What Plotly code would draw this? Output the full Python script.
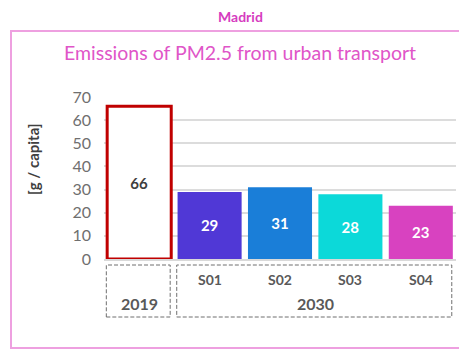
import plotly.graph_objects as go

# Data
scenarios = ["2019", "S01", "S02", "S03", "S04"]
groups = ["2019", "2030"]
values = [66, 29, 31, 28, 23]
bar_colors = ["#ffffff", "#5038d6", "#1a7ed8", "#0cd9d9", "#d842c0"]
y_ticks = [0, 10, 20, 30, 40, 50, 60, 70]

FONT = "Lato"
GREY = "#595959"

fig = go.Figure()
fig.add_trace(go.Bar(
    x=scenarios,
    y=values,
    marker=dict(color=bar_colors,
                line=dict(color=["#c00000", "rgba(0,0,0,0)", "rgba(0,0,0,0)",
                                 "rgba(0,0,0,0)", "rgba(0,0,0,0)"],
                          width=[3, 0, 0, 0, 0])),
    text=[str(v) for v in values],
    textposition="inside",
    insidetextanchor="middle",
    textangle=0,
    textfont=dict(family=FONT, size=15,
                  color=["#404040", "white", "white", "white", "white"],
                  weight="bold"),
    hoverinfo="skip",
    showlegend=False,
))

W, H = 459, 350
ML, MR, MT, MB = 104, 3, 97, 91
PW = W - ML - MR
PH = H - MT - MB


def px_x(x):
    return (x - ML) / PW


def px_y(y):
    return (H - MB - y) / PH


def cat_x(i):
    return (i + 0.5) / len(scenarios)


shapes = []
# outer panel border
shapes.append(dict(type="rect", xref="paper", yref="paper",
                   x0=px_x(11), x1=px_x(470), y0=px_y(348), y1=px_y(31),
                   line=dict(color="#eea0e0", width=2), fillcolor="rgba(0,0,0,0)",
                   layer="below"))
# dashed group boxes under the axis
for i0, i1 in [(0, 0), (1, 4)]:
    shapes.append(dict(type="rect", xref="paper", yref="paper",
                       x0=cat_x(i0) - 0.467 / len(scenarios),
                       x1=cat_x(i1) + 0.44 / len(scenarios),
                       y0=px_y(317), y1=px_y(265),
                       line=dict(color="#6f6f6f", width=1, dash="4px,2px"),
                       fillcolor="rgba(0,0,0,0)"))

annotations = []


def label(x, xref, y, text, font, **kw):
    annotations.append(dict(x=x, xref=xref, y=y, yref="paper", text=text,
                            showarrow=False, xanchor="center", yanchor="middle",
                            font=font, **kw))


for s in scenarios[1:]:
    label(s, "x", px_y(279), s,
          dict(family=FONT, size=14, color=GREY, weight="bold"))
label(cat_x(0), "paper", px_y(303), groups[0],
      dict(family=FONT, size=16, color=GREY, weight="bold"))
label((cat_x(1) + cat_x(4)) / 2, "paper", px_y(303), groups[1],
      dict(family=FONT, size=16, color=GREY, weight="bold"))
# axis title
label(px_x(33), "paper", px_y(159), "[g / capita]",
      dict(family=FONT, size=15, color="#404040", weight="bold"), textangle=-90)
# headers
label(px_x(240), "paper", px_y(16), "Madrid",
      dict(family=FONT, size=14, color="#d63cbf", weight="bold"))
label(px_x(240), "paper", px_y(53), "Emissions of PM2.5 from urban transport",
      dict(family=FONT, size=19.5, color="#e055c8"))

fig.update_layout(
    width=W, height=H,
    margin=dict(l=ML, r=MR, t=MT, b=MB, autoexpand=False),
    paper_bgcolor="white", plot_bgcolor="white",
    bargap=0.09,
    shapes=shapes,
    annotations=annotations,
    xaxis=dict(showticklabels=False, showgrid=False, zeroline=False,
               showline=True, linecolor="#d9d9d9", linewidth=1.5,
               range=[-0.5, 4.5], fixedrange=True),
    yaxis=dict(range=[0, 70], tickvals=y_ticks, showgrid=True,
               gridcolor="#dcdcdc", gridwidth=1.5, zeroline=False,
               tickfont=dict(family=FONT, size=16, color="#6f6f6f"),
               ticks="", ticklabelstandoff=12, fixedrange=True),
)

fig.write_html("out.html")
